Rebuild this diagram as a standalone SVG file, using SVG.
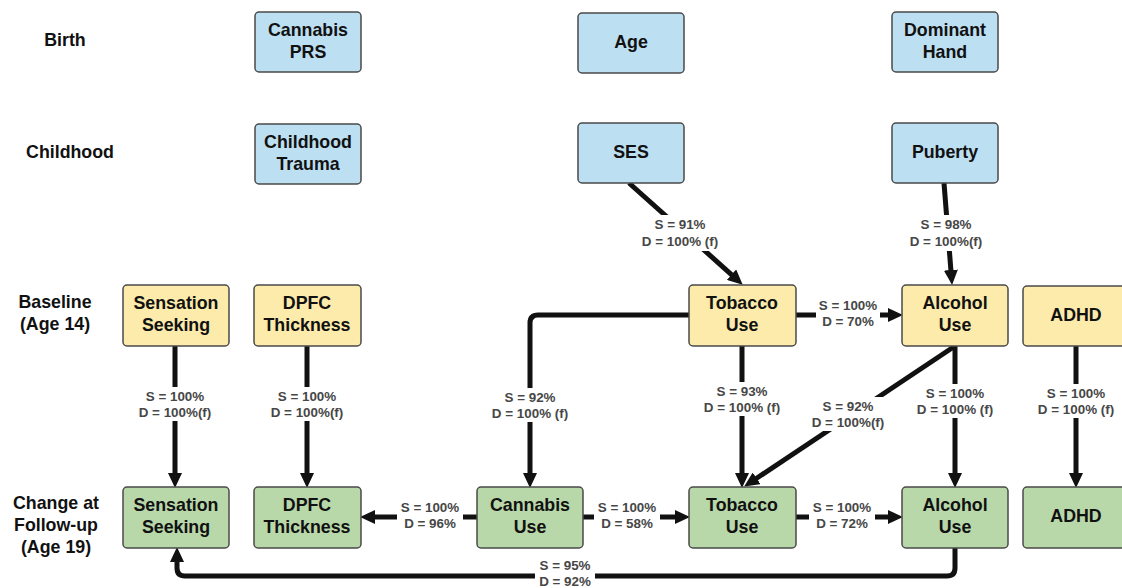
<svg xmlns="http://www.w3.org/2000/svg" width="1122" height="588" viewBox="0 0 1122 588">
<style>
.box{stroke:#4a4a4a;stroke-width:1.5}
.blue{fill:#bddff2}
.yel{fill:#fcebaa}
.grn{fill:#b9d8a9}
.bt{font-family:"Liberation Sans",Arial,sans-serif;font-weight:bold;font-size:17.8px;fill:#111;text-anchor:middle}
.rl{font-family:"Liberation Sans",Arial,sans-serif;font-weight:bold;font-size:17.8px;fill:#111;text-anchor:middle}
.ed{fill:none;stroke:#111;stroke-width:5;marker-end:url(#ah)}
.lb{font-family:"Liberation Sans",Arial,sans-serif;font-weight:bold;font-size:13.4px;fill:#474747;text-anchor:middle}
.lbg{fill:#fff}
</style>
<defs>
<marker id="ah" markerUnits="userSpaceOnUse" markerWidth="15" markerHeight="14" refX="4" refY="7" orient="auto">
<path d="M0,0 L15,7 L0,14 z" fill="#111"/>
</marker>
</defs>
<rect width="1122" height="588" fill="#fff"/>
<g id="rowlabels">
<text class="rl" x="65" y="46">Birth</text>
<text class="rl" x="70" y="158">Childhood</text>
<text class="rl" x="55" y="308">Baseline</text>
<text class="rl" x="55" y="330">(Age 14)</text>
<text class="rl" x="56" y="509">Change at</text>
<text class="rl" x="56" y="531">Follow-up</text>
<text class="rl" x="56" y="553">(Age 19)</text>
</g>
<g id="connectors">
<path class="ed" d="M629,183 L734.5,277.3"/>
<path class="ed" d="M944,183 L951.2,274"/>
<path class="ed" d="M796,315 L892,315"/>
<path class="ed" d="M689,315 L538,315 Q530,315 530,323 L530,477"/>
<path class="ed" d="M742,346 L742,477"/>
<path class="ed" d="M955,346 L753.3,480.5"/>
<path class="ed" d="M955,346 L955,477"/>
<path class="ed" d="M1076,346 L1076,477"/>
<path class="ed" d="M175,346 L175,477"/>
<path class="ed" d="M307,346 L307,477"/>
<path class="ed" d="M477,517 L371,517"/>
<path class="ed" d="M583,517 L679,517"/>
<path class="ed" d="M796,517 L892,517"/>
<path class="ed" d="M955,548 L955,568 Q955,576 947,576 L185,576 Q177,576 177,568 L177,558"/>
</g>
<g id="edgelabels">
<g><rect class="lbg" x="641" y="215" width="80" height="36"/><text class="lb" x="680" y="229">S = 91%</text><text class="lb" x="680" y="246">D = 100% (f)</text></g>
<g><rect class="lbg" x="908" y="215" width="76" height="36"/><text class="lb" x="946" y="229">S = 98%</text><text class="lb" x="946" y="246">D = 100%(f)</text></g>
<g><rect class="lbg" x="816" y="296" width="64" height="34"/><text class="lb" x="848" y="310">S = 100%</text><text class="lb" x="848" y="326">D = 70%</text></g>
<g><rect class="lbg" x="488" y="388" width="84" height="34"/><text class="lb" x="530" y="402">S = 92%</text><text class="lb" x="530" y="418">D = 100% (f)</text></g>
<g><rect class="lbg" x="700" y="382" width="84" height="34"/><text class="lb" x="742" y="396">S = 93%</text><text class="lb" x="742" y="412">D = 100% (f)</text></g>
<g><rect class="lbg" x="808" y="397" width="80" height="34"/><text class="lb" x="848" y="411">S = 92%</text><text class="lb" x="848" y="427">D = 100%(f)</text></g>
<g><rect class="lbg" x="913" y="384" width="84" height="34"/><text class="lb" x="955" y="398">S = 100%</text><text class="lb" x="955" y="414">D = 100% (f)</text></g>
<g><rect class="lbg" x="1034" y="384" width="84" height="34"/><text class="lb" x="1076" y="398">S = 100%</text><text class="lb" x="1076" y="414">D = 100% (f)</text></g>
<g><rect class="lbg" x="135" y="387" width="80" height="34"/><text class="lb" x="175" y="401">S = 100%</text><text class="lb" x="175" y="417">D = 100%(f)</text></g>
<g><rect class="lbg" x="267" y="387" width="80" height="34"/><text class="lb" x="307" y="401">S = 100%</text><text class="lb" x="307" y="417">D = 100%(f)</text></g>
<g><rect class="lbg" x="397" y="498" width="66" height="34"/><text class="lb" x="430" y="512">S = 100%</text><text class="lb" x="430" y="528">D = 96%</text></g>
<g><rect class="lbg" x="594" y="498" width="66" height="34"/><text class="lb" x="627" y="512">S = 100%</text><text class="lb" x="627" y="528">D = 58%</text></g>
<g><rect class="lbg" x="809" y="498" width="66" height="34"/><text class="lb" x="842" y="512">S = 100%</text><text class="lb" x="842" y="528">D = 72%</text></g>
<g><rect class="lbg" x="535" y="556" width="60" height="32"/><text class="lb" x="565" y="570">S = 95%</text><text class="lb" x="565" y="586">D = 92%</text></g>
</g>
<g id="cannabis-prs"><rect class="box blue" x="255" y="12" width="106" height="60" rx="4"/><text class="bt" x="308" y="36">Cannabis</text><text class="bt" x="308" y="58">PRS</text></g>
<g id="age"><rect class="box blue" x="578" y="13" width="106" height="60" rx="4"/><text class="bt" x="631" y="48">Age</text></g>
<g id="dominant-hand"><rect class="box blue" x="892" y="12" width="106" height="60" rx="4"/><text class="bt" x="945" y="36">Dominant</text><text class="bt" x="945" y="58">Hand</text></g>
<g id="childhood-trauma"><rect class="box blue" x="255" y="124" width="106" height="60" rx="4"/><text class="bt" x="308" y="148">Childhood</text><text class="bt" x="308" y="170">Trauma</text></g>
<g id="ses"><rect class="box blue" x="578" y="123" width="106" height="60" rx="4"/><text class="bt" x="631" y="158">SES</text></g>
<g id="puberty"><rect class="box blue" x="892" y="123" width="106" height="60" rx="4"/><text class="bt" x="945" y="158">Puberty</text></g>
<g id="ss-base"><rect class="box yel" x="123" y="285" width="106" height="61" rx="4"/><text class="bt" x="176" y="309">Sensation</text><text class="bt" x="176" y="331">Seeking</text></g>
<g id="dpfc-base"><rect class="box yel" x="254" y="285" width="107" height="61" rx="4"/><text class="bt" x="307" y="309">DPFC</text><text class="bt" x="307" y="331">Thickness</text></g>
<g id="tobacco-base"><rect class="box yel" x="689" y="285" width="107" height="61" rx="4"/><text class="bt" x="742" y="309">Tobacco</text><text class="bt" x="742" y="331">Use</text></g>
<g id="alcohol-base"><rect class="box yel" x="902" y="285" width="106" height="61" rx="4"/><text class="bt" x="955" y="309">Alcohol</text><text class="bt" x="955" y="331">Use</text></g>
<g id="adhd-base"><rect class="box yel" x="1023" y="286" width="106" height="60" rx="4"/><text class="bt" x="1076" y="321">ADHD</text></g>
<g id="ss-fu"><rect class="box grn" x="123" y="487" width="106" height="61" rx="4"/><text class="bt" x="176" y="511">Sensation</text><text class="bt" x="176" y="533">Seeking</text></g>
<g id="dpfc-fu"><rect class="box grn" x="254" y="487" width="107" height="61" rx="4"/><text class="bt" x="307" y="511">DPFC</text><text class="bt" x="307" y="533">Thickness</text></g>
<g id="cannabis-fu"><rect class="box grn" x="477" y="487" width="106" height="61" rx="4"/><text class="bt" x="530" y="511">Cannabis</text><text class="bt" x="530" y="533">Use</text></g>
<g id="tobacco-fu"><rect class="box grn" x="689" y="487" width="107" height="61" rx="4"/><text class="bt" x="742" y="511">Tobacco</text><text class="bt" x="742" y="533">Use</text></g>
<g id="alcohol-fu"><rect class="box grn" x="902" y="487" width="106" height="61" rx="4"/><text class="bt" x="955" y="511">Alcohol</text><text class="bt" x="955" y="533">Use</text></g>
<g id="adhd-fu"><rect class="box grn" x="1023" y="487" width="106" height="61" rx="4"/><text class="bt" x="1076" y="522">ADHD</text></g>
</svg>
